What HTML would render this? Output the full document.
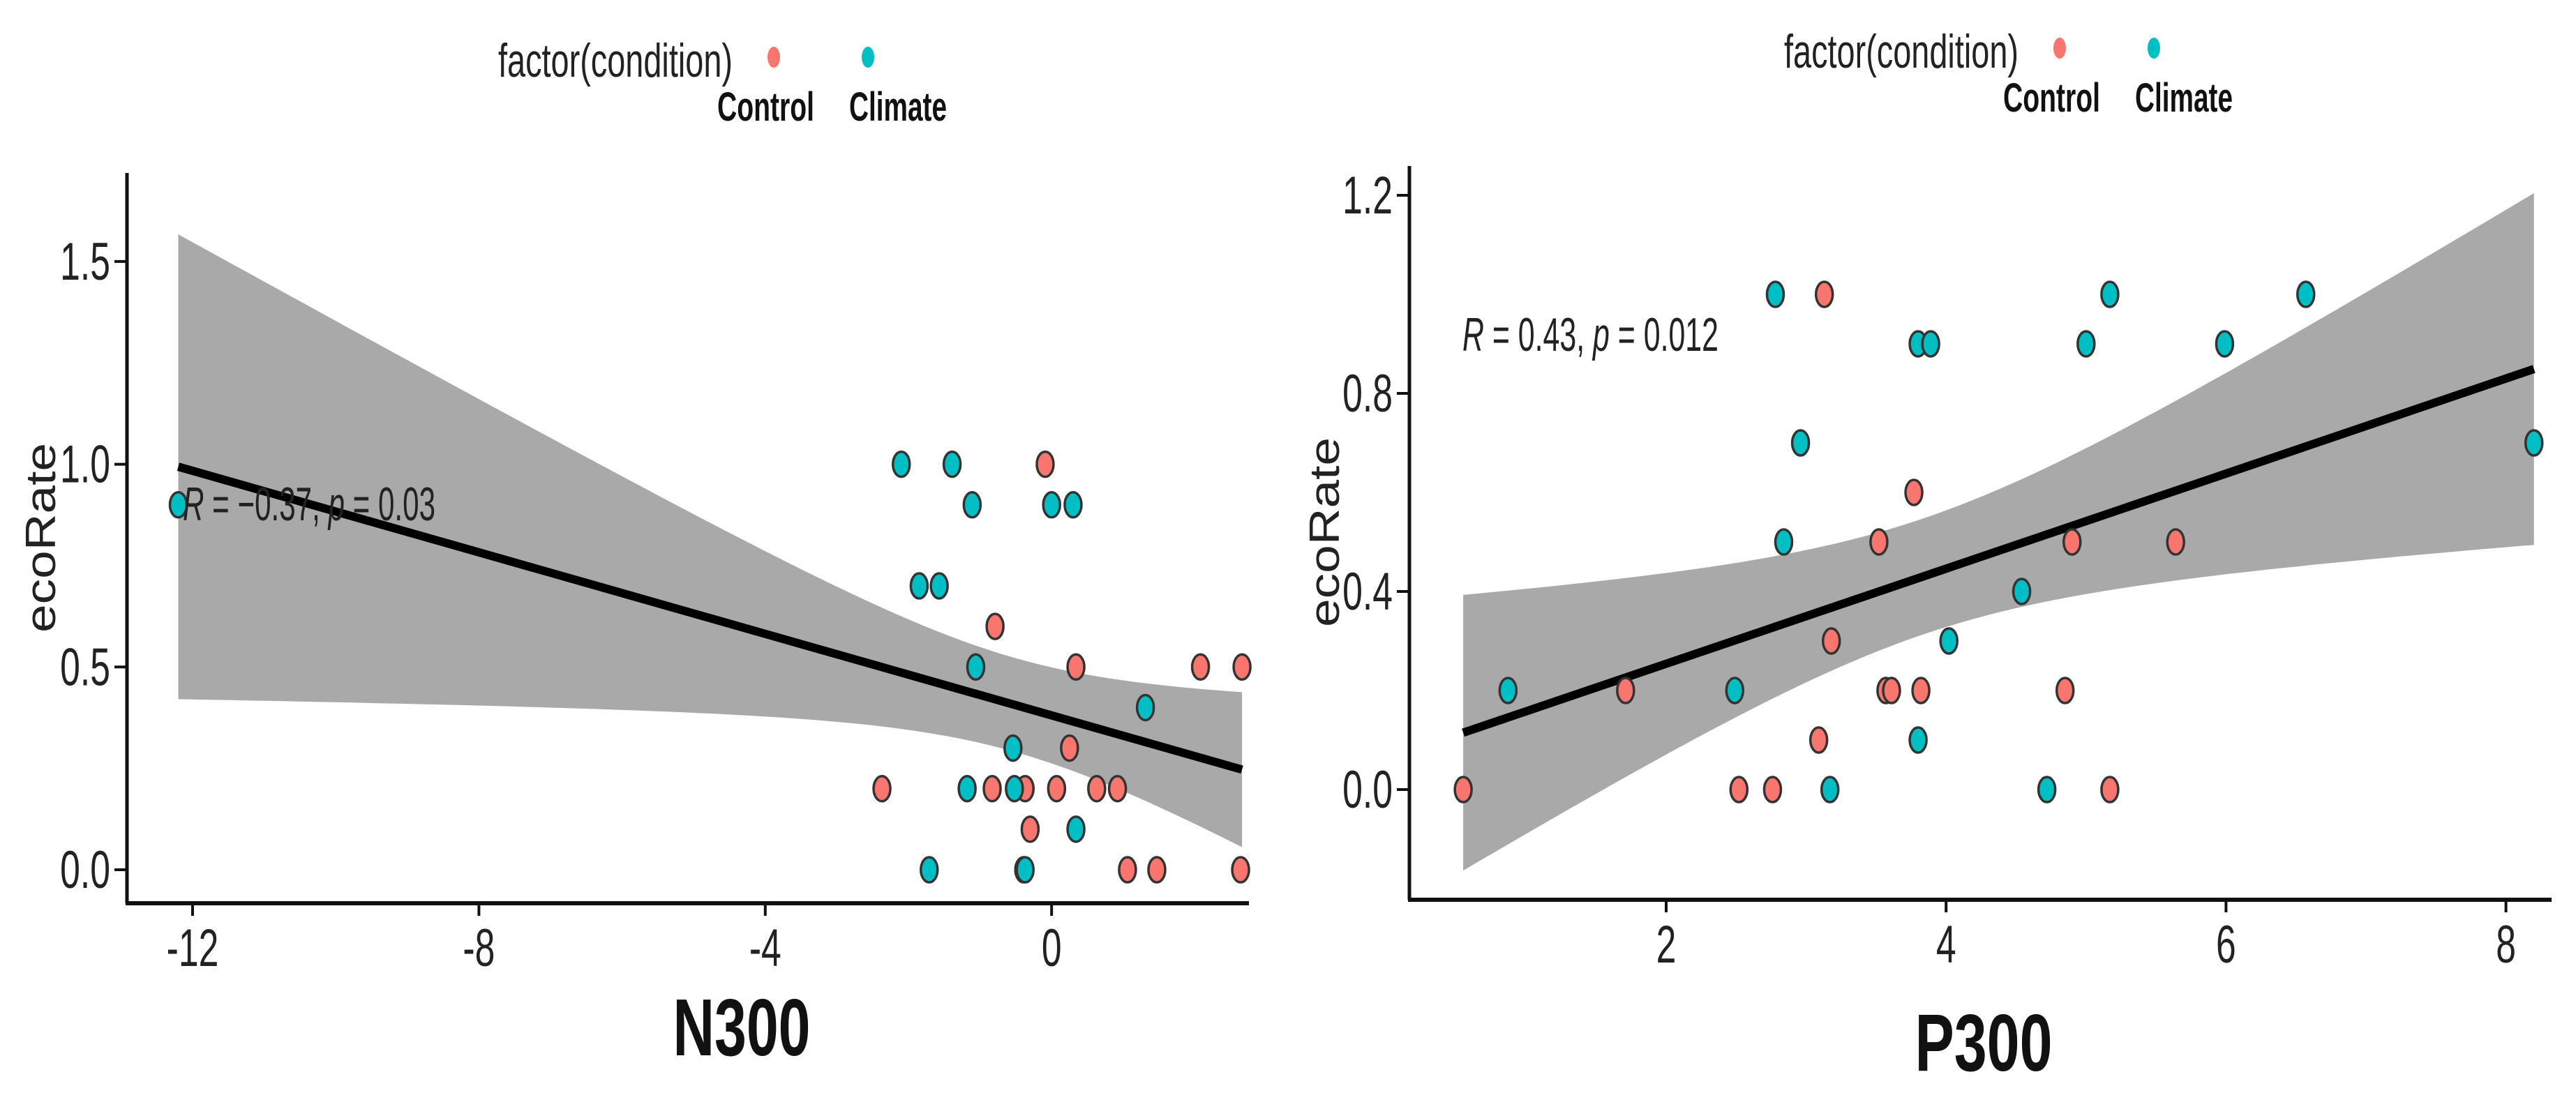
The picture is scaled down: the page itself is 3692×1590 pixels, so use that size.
<!DOCTYPE html>
<html><head><meta charset="utf-8">
<style>
html,body{margin:0;padding:0;background:#fff;}
svg{display:block;font-family:"Liberation Sans",sans-serif;}
</style></head>
<body>
<svg id="chart" width="3692" height="1590" viewBox="0 0 3692 1590">
<rect width="3692" height="1590" fill="#fff"/>
</svg>
<script>
// ---- Data: N300 panel ----
const nCyanX = [-12.2,-2.1,-1.39,-1.11,0.0,0.3,-1.85,-1.57,-1.06,1.31,-0.54,-1.18,-0.52,0.34,-1.71,-0.37];
const nCyanY = [0.9,1.0,1.0,0.9,0.9,0.9,0.7,0.7,0.5,0.4,0.3,0.2,0.2,0.1,0.0,0.0];
const nRedX = [-0.09,-0.79,0.34,2.08,2.66,0.25,-2.37,-0.83,-0.37,0.07,0.63,0.92,-0.3,-0.39,1.06,1.47,2.64];
const nRedY = [1.0,0.6,0.5,0.5,0.5,0.3,0.2,0.2,0.2,0.2,0.2,0.2,0.1,0.0,0.0,0.0,0.0];
const nXTicks = [-12,-8,-4,0];
const nYTicks = [0.0,0.5,1.0,1.5];
const nStat = "−0.37, ";
const nP = "0.03";
// ---- Data: P300 panel ----
const pCyanX = [0.87,2.49,2.78,2.96,2.84,3.17,3.8,3.89,4.02,3.8,4.54,4.72,5.0,5.17,5.99,6.57,8.2];
const pCyanY = [0.2,0.2,1.0,0.7,0.5,0.0,0.9,0.9,0.3,0.1,0.4,0.0,0.9,1.0,0.9,1.0,0.7];
const pRedX = [0.55,1.71,2.52,2.76,3.09,3.13,3.18,3.52,3.57,3.61,3.77,3.82,4.85,4.9,5.17,5.64];
const pRedY = [0.0,0.2,0.0,0.0,0.1,1.0,0.3,0.5,0.2,0.2,0.6,0.2,0.2,0.5,0.0,0.5];
const pXTicks = [2,4,6,8];
const pYTicks = [0.0,0.4,0.8,1.2];
const pStat = "0.43, ";
const pP = "0.012";

const NS="http://www.w3.org/2000/svg";
const svg=document.getElementById('chart');
function mk(tag,attrs,parent){const e=document.createElementNS(NS,tag);for(const k in attrs)e.setAttribute(k,attrs[k]);(parent||svg).appendChild(e);return e;}

function lm(xs,ys){
  const n=xs.length;let mx=0,my=0;for(let i=0;i<n;i++){mx+=xs[i];my+=ys[i];}mx/=n;my/=n;
  let sxx=0,sxy=0;for(let i=0;i<n;i++){sxx+=(xs[i]-mx)**2;sxy+=(xs[i]-mx)*(ys[i]-my);}
  const b=sxy/sxx,a=my-b*mx;let sse=0;for(let i=0;i<n;i++){sse+=(ys[i]-a-b*xs[i])**2;}
  const s=Math.sqrt(sse/(n-2));
  return {a,b,s,n,mx,sxx,t:2.03};
}

function panel(cfg){
  const g=mk('g',{});
  
  
  const X=v=>cfg.x0+(v-cfg.xv0)*cfg.xs;
  const Y=v=>cfg.y0-(v-cfg.yv0)*cfg.ys;
  const xsAll=cfg.redX.concat(cfg.cyanX), ysAll=cfg.redY.concat(cfg.cyanY);
  const m=lm(xsAll,ysAll);
  const xmin=Math.min(...xsAll),xmax=Math.max(...xsAll);
  let up=[],lo=[];
  for(let i=0;i<=80;i++){
    const x=xmin+(xmax-xmin)*i/80;
    const f=m.a+m.b*x;
    const h=m.t*m.s*Math.sqrt(1/m.n+(x-m.mx)**2/m.sxx);
    up.push(X(x).toFixed(1)+','+Y(f+h).toFixed(1));
    lo.push(X(x).toFixed(1)+','+Y(f-h).toFixed(1));
  }
  const band=mk('polygon',{points:up.concat(lo.reverse()).join(' '),fill:'#a9a9a9'},g);
  
  
  const line=mk('line',{x1:X(xmin),y1:Y(m.a+m.b*xmin),x2:X(xmax),y2:Y(m.a+m.b*xmax),stroke:'#000','stroke-width':12},g);
  
  
  const ya=mk('line',{x1:cfg.ax,y1:cfg.atop,x2:cfg.ax,y2:cfg.ab,stroke:'#111','stroke-width':5},g);
  
  
  const xa=mk('line',{x1:cfg.ax-2,y1:cfg.ab,x2:cfg.aright,y2:cfg.ab,stroke:'#111','stroke-width':6},g);
  
  
  cfg.xt.forEach(v=>{
    const t=mk('line',{x1:X(v),y1:cfg.ab,x2:X(v),y2:cfg.ab+18,stroke:'#111','stroke-width':4},g);
    
    
    const tx=mk('text',{transform:`translate(${X(v)},${cfg.ab+90}) scale(0.68,1)`,'font-size':76,'text-anchor':'middle',fill:'#222'},g);
    tx.textContent=String(v);
    
    
  });
  cfg.yt.forEach(v=>{
    const t=mk('line',{x1:cfg.ax-18,y1:Y(v),x2:cfg.ax,y2:Y(v),stroke:'#111','stroke-width':4},g);
    
    
    const tx=mk('text',{transform:`translate(${cfg.ax-24},${Y(v)+26}) scale(0.68,1)`,'font-size':76,'text-anchor':'end',fill:'#222'},g);
    tx.textContent=v.toFixed(1);
    
    
  });
  const pts=(xs,ys,col,nm)=>xs.forEach((x,i)=>{
    const c=mk('ellipse',{cx:X(x),cy:Y(ys[i]),rx:12,ry:18,fill:col,stroke:'#333','stroke-width':3.5},g);
    
    
  });
  pts(cfg.redX,cfg.redY,'#F8766D','point-control');
  pts(cfg.cyanX,cfg.cyanY,'#00BFC4','point-climate');
  const st=mk('text',{x:cfg.statX,y:cfg.statY+24,'font-size':68,fill:'#222',textLength:cfg.statW,lengthAdjust:'spacingAndGlyphs'},g);
  st.innerHTML='<tspan font-style="italic">R</tspan> = '+cfg.stat+'<tspan font-style="italic">p</tspan> = '+cfg.p;
  
  
  const xt=mk('text',{x:cfg.xtitleX,y:cfg.xtitleY,'font-size':116,'font-weight':'bold','text-anchor':'middle',fill:'#111',textLength:197,lengthAdjust:'spacingAndGlyphs'},g);
  xt.textContent=cfg.xtitle;
  
  
  const yt=mk('text',{transform:`translate(${cfg.ytitleX+20},${cfg.ytitleY}) rotate(-90)`,'font-size':60,'text-anchor':'middle',fill:'#222',textLength:272,lengthAdjust:'spacingAndGlyphs'},g);
  yt.textContent='ecoRate';
  
  
  const lg=mk('g',{},g);
  
  
  const lt=mk('text',{x:cfg.legX,y:cfg.legY+24,'font-size':68,fill:'#222',textLength:336,lengthAdjust:'spacingAndGlyphs'},lg);
  lt.textContent='factor(condition)';
  
  
  const d1=mk('ellipse',{cx:cfg.legX+395,cy:cfg.legY-4,rx:9,ry:15,fill:'#F8766D'},lg);
  
  
  const d2=mk('ellipse',{cx:cfg.legX+530,cy:cfg.legY-4,rx:9,ry:15,fill:'#00BFC4'},lg);
  
  
  const l1=mk('text',{x:cfg.legX+314,y:cfg.legY+87,'font-size':58,'font-weight':'bold',fill:'#111',textLength:139,lengthAdjust:'spacingAndGlyphs'},lg);
  l1.textContent='Control';
  
  
  const l2=mk('text',{x:cfg.legX+503,y:cfg.legY+87,'font-size':58,'font-weight':'bold',fill:'#111',textLength:140,lengthAdjust:'spacingAndGlyphs'},lg);
  l2.textContent='Climate';
  
  
}

panel({name:'n300-panel',x0:276,xv0:-12,xs:102.6,y0:1247,yv0:0,ys:581.4,
  ax:182,atop:248,ab:1295,aright:1790,xt:nXTicks,yt:nYTicks,
  redX:nRedX,redY:nRedY,cyanX:nCyanX,cyanY:nCyanY,
  stat:nStat,p:nP,statX:262,statY:722,statW:362,
  xtitle:'N300',xtitleX:1063,xtitleY:1513,ytitleX:59,ytitleY:771,
  legX:714,legY:86});
panel({name:'p300-panel',x0:2388,xv0:2,xs:200.6,y0:1132,yv0:0,ys:710,
  ax:2020,atop:238,ab:1290,aright:3657,xt:pXTicks,yt:pYTicks,
  redX:pRedX,redY:pRedY,cyanX:pCyanX,cyanY:pCyanY,
  stat:pStat,p:pP,statX:2096,statY:479,statW:367,
  xtitle:'P300',xtitleX:2843,xtitleY:1535,ytitleX:1899,ytitleY:763,
  legX:2557,legY:73});
</script>
</body></html>
